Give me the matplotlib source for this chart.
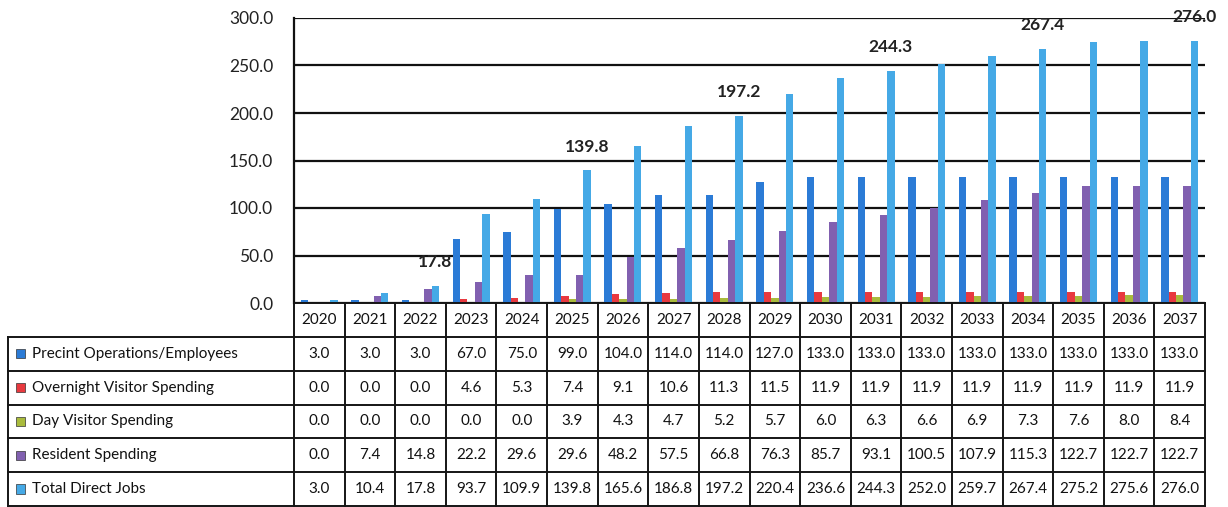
import numpy as np
import matplotlib.pyplot as plt
from matplotlib.patches import Rectangle

plt.rcParams['font.family'] = ['Lato', 'DejaVu Sans']

years = [str(y) for y in range(2020, 2038)]
series_names = ['Precint Operations/Employees', 'Overnight Visitor Spending',
                'Day Visitor Spending', 'Resident Spending', 'Total Direct Jobs']
precint = [3.0, 3.0, 3.0, 67.0, 75.0, 99.0, 104.0, 114.0, 114.0, 127.0,
           133.0, 133.0, 133.0, 133.0, 133.0, 133.0, 133.0, 133.0]
overnight = [0.0, 0.0, 0.0, 4.6, 5.3, 7.4, 9.1, 10.6, 11.3, 11.5,
             11.9, 11.9, 11.9, 11.9, 11.9, 11.9, 11.9, 11.9]
day_visitor = [0.0, 0.0, 0.0, 0.0, 0.0, 3.9, 4.3, 4.7, 5.2, 5.7,
               6.0, 6.3, 6.6, 6.9, 7.3, 7.6, 8.0, 8.4]
resident = [0.0, 7.4, 14.8, 22.2, 29.6, 29.6, 48.2, 57.5, 66.8, 76.3,
            85.7, 93.1, 100.5, 107.9, 115.3, 122.7, 122.7, 122.7]
total = [3.0, 10.4, 17.8, 93.7, 109.9, 139.8, 165.6, 186.8, 197.2, 220.4,
         236.6, 244.3, 252.0, 259.7, 267.4, 275.2, 275.6, 276.0]
labelled = [2, 5, 8, 11, 14, 17]   # years whose total gets a value label

colors = ['#2b7bd6', '#e8393f', '#a9bb3c', '#8160b0', '#45a9e6']
data = [precint, overnight, day_visitor, resident, total]

W, H = 1228, 507
fig = plt.figure(figsize=(W / 100, H / 100), dpi=100)

# pixel layout
x0, x1 = 294, 1205
y_top, y_axis, y_bot = 18, 303, 506
leg_left = 8
cat_w = (x1 - x0) / len(years)

ax = fig.add_axes([x0 / W, 1 - y_axis / H, (x1 - x0) / W, (y_axis - y_top) / H])
n = len(years)
x = np.arange(n)
bw = 0.146
for j, (vals, c) in enumerate(zip(data, colors)):
    ax.bar(x + (j - 2) * bw, vals, width=bw, color=c, zorder=3)

for i in labelled:
    ax.annotate(f'{total[i]:.1f}', (x[i] + 2 * bw, total[i]), xytext=(0, 17),
                textcoords='offset points', ha='center', va='center',
                fontsize=12.5, fontweight='bold', color='#222222', zorder=5,
                annotation_clip=False)

ax.set_xlim(-0.5, n - 0.5)
ax.set_ylim(0, 300)
ax.set_yticks(np.arange(0, 301, 50))
ax.set_yticklabels([f'{v:.1f}' for v in range(0, 301, 50)])
ax.tick_params(axis='y', length=0, pad=15, labelsize=12.5, labelcolor='#222222')
ax.set_xticks([])
ax.yaxis.grid(True, color='#111111', linewidth=1.6, zorder=1)
for s in ['top', 'right', 'bottom']:
    ax.spines[s].set_visible(False)
ax.spines['left'].set_linewidth(1.6)
ax.spines['left'].set_color('#111111')

# data table underneath
tx = fig.add_axes([leg_left / W, 1 - y_bot / H, (x1 - leg_left) / W, (y_bot - y_axis) / H])
left_units = (x0 - leg_left) / cat_w
tx.set_xlim(-0.5 - left_units, n - 0.5)
tx.set_ylim(6, 0)
tx.axis('off')

lw = 1.4
lc = '#151515'
fs = 11
# horizontal rules
tx.plot([-0.5, n - 0.5], [0, 0], color=lc, lw=lw, clip_on=False)
for r in range(1, 7):
    tx.plot([-0.5 - left_units, n - 0.5], [r, r], color=lc, lw=lw, clip_on=False)
# vertical rules
for k in range(n + 1):
    tx.plot([k - 0.5, k - 0.5], [0, 6], color=lc, lw=lw, clip_on=False)
tx.plot([-0.5 - left_units] * 2, [1, 6], color=lc, lw=lw, clip_on=False)

for i, yr in enumerate(years):
    tx.text(x[i], 0.5, yr, ha='center', va='center', fontsize=fs, color='#111111')

sq = 9 / cat_w
for r, (name, vals, c) in enumerate(zip(series_names, data, colors), start=1):
    tx.add_patch(Rectangle((-0.5 - left_units + 8 / cat_w, r + 0.5 - 0.14), sq, 0.28,
                           facecolor=c, edgecolor='#333333', lw=0.5, clip_on=False))
    tx.text(-0.5 - left_units + 24 / cat_w, r + 0.5, name, ha='left', va='center',
            fontsize=fs, color='#111111')
    for i, v in enumerate(vals):
        tx.text(x[i], r + 0.5, f'{v:.1f}', ha='center', va='center',
                fontsize=fs, color='#111111')

fig.savefig('out.png', dpi=100)
